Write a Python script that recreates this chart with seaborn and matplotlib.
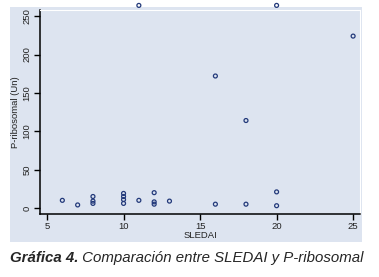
import pandas as pd
import matplotlib
matplotlib.use('Agg')
from matplotlib import pyplot as plt
from matplotlib.patches import Rectangle
import seaborn as sns

sns.set_style('white')
plt.rcParams['font.family'] = ['Liberation Sans', 'DejaVu Sans']

### data
sledai = [6, 7, 8, 8, 8, 10, 10, 10, 10, 11, 12, 12, 12, 13, 16, 16, 18, 18, 20, 20, 25, 11, 20]
pribo = [10, 4, 15, 9, 6, 19, 15, 11, 6, 10, 20, 8, 5, 9, 5, 172, 5, 114, 21, 3, 224, 264, 264]
xticks = [5, 10, 15, 20, 25]
yticks = [0, 50, 100, 150, 200, 250]

df = pd.DataFrame({'SLEDAI': sledai, 'P-ribosomal (Un)': pribo})

W, H = 379, 277
fig = plt.figure(figsize=(W / 100, H / 100), dpi=100)
fig.patch.set_facecolor('white')

### stata style grey-blue panel
bg = Rectangle((10 / W, 1 - 242 / H), 352 / W, 235 / H, transform=fig.transFigure,
               facecolor='#dde4f0', edgecolor='none', zorder=-5)
fig.patches.append(bg)

ax = fig.add_axes([40 / W, 1 - 214 / H, 320 / W, 204 / H])
ax.set_zorder(2)
ax.set_facecolor('none')
sns.scatterplot(x='SLEDAI', y='P-ribosomal (Un)', data=df, ax=ax, marker='o',
                facecolor='none', edgecolor='#22397a', linewidth=0.9, s=8, clip_on=False)

ax.set_xlim(4.54, 25.45)
ax.set_ylim(-7.8, 258)
ax.set_xticks(xticks)
ax.set_yticks(yticks)
ax.set_xticklabels([str(t) for t in xticks], fontsize=6.8, color='#222222')
ax.set_yticklabels([str(t) for t in yticks], fontsize=6.8, color='#222222', rotation=90, va='center')
ax.tick_params(axis='both', length=4, width=1, color='black', pad=2, direction='out')
ax.tick_params(axis='x', bottom=True)
ax.tick_params(axis='y', left=True)
ax.set_xlabel('SLEDAI', fontsize=6.8, labelpad=0, color='#222222')
ax.set_ylabel('P-ribosomal (Un)', fontsize=6.8, labelpad=2, color='#222222')

for s in ['left', 'bottom']:
    ax.spines[s].set_color('black')
    ax.spines[s].set_linewidth(1.1)
for s in ['top', 'right']:
    ax.spines[s].set_color('white')
    ax.spines[s].set_linewidth(0.8)

### caption
t1 = fig.text(10 / W, 1 - 258 / H, 'Gráfica 4.', fontsize=10.8, fontweight='bold',
              fontstyle='italic', va='center', ha='left')
fig.canvas.draw()
bb = t1.get_window_extent()
fig.text(bb.x1 / W, 1 - 258 / H, ' Comparación entre SLEDAI y P-ribosomal', fontsize=10.8,
         fontstyle='italic', va='center', ha='left')

plt.savefig('out.png', dpi=100)
